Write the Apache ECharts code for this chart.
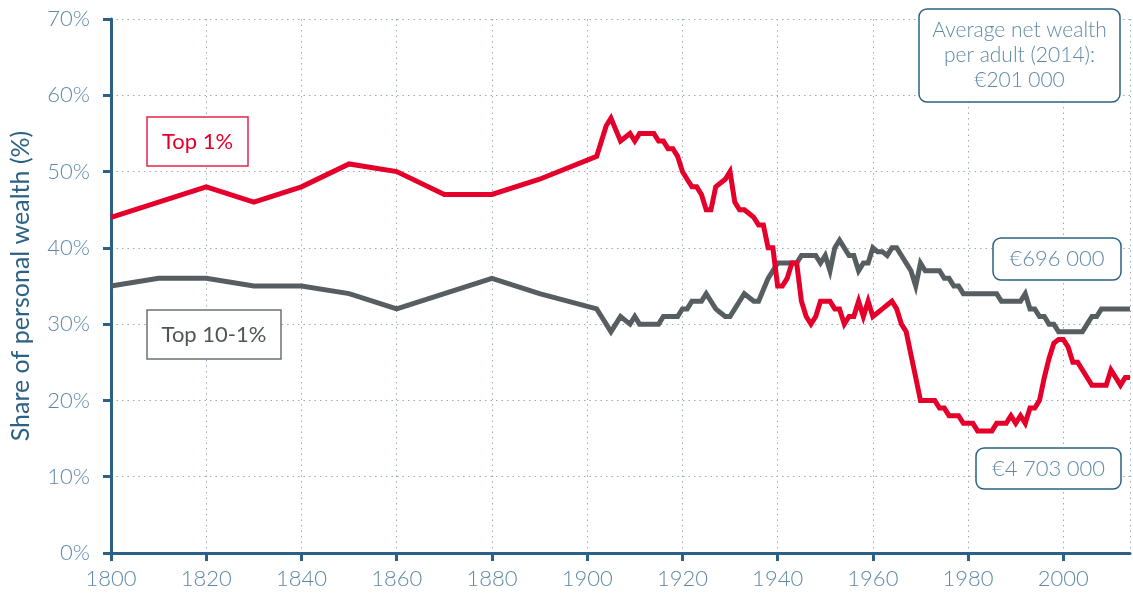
<!DOCTYPE html>
<html>
<head>
<meta charset="utf-8">
<title>Share of personal wealth</title>
<script src="https://cdn.jsdelivr.net/npm/echarts@6/dist/echarts.min.js"></script>
<style>
  html, body { margin: 0; padding: 0; background: #ffffff; }
  #chart { width: 1133px; height: 599px; }
</style>
</head>
<body>
<div id="chart"></div>
<script>
// Years with an observation: decennial until 1890, then annual from 1902.
const years = [
  1800, 1810, 1820, 1830, 1840, 1850, 1860, 1870, 1880, 1890,
  1902, 1903, 1904, 1905, 1906, 1907, 1908, 1909, 1910, 1911,
  1912, 1913, 1914, 1915, 1916, 1917, 1918, 1919, 1920, 1921,
  1922, 1923, 1924, 1925, 1926, 1927, 1928, 1929, 1930, 1931,
  1932, 1933, 1934, 1935, 1936, 1937, 1938, 1939, 1940, 1941,
  1942, 1943, 1944, 1945, 1946, 1947, 1948, 1949, 1950, 1951,
  1952, 1953, 1954, 1955, 1956, 1957, 1958, 1959, 1960, 1961,
  1962, 1963, 1964, 1965, 1966, 1967, 1968, 1969, 1970, 1971,
  1972, 1973, 1974, 1975, 1976, 1977, 1978, 1979, 1980, 1981,
  1982, 1983, 1984, 1985, 1986, 1987, 1988, 1989, 1990, 1991,
  1992, 1993, 1994, 1995, 1996, 1997, 1998, 1999, 2000, 2001,
  2002, 2003, 2004, 2005, 2006, 2007, 2008, 2009, 2010, 2011,
  2012, 2013, 2014
];

// Share of personal wealth held by the top 1% (%)
const top1 = [
  44, 46, 48, 46, 48, 51, 50, 47, 47, 49,
  52, 54, 56, 57, 55.5, 54, 54.5, 55, 54, 55,
  55, 55, 55, 54, 54, 53, 53, 52, 50, 49,
  48, 48, 47, 45, 45, 48, 48.5, 49, 50, 46,
  45, 45, 44.5, 44, 43, 43, 40, 40, 35, 35,
  36, 38, 38, 33, 31, 30, 31, 33, 33, 33,
  32, 32, 30, 31, 31, 33, 31, 33, 31, 31.5,
  32, 32.5, 33, 32, 30, 29, 26, 23, 20, 20,
  20, 20, 19, 19, 18, 18, 18, 17, 17, 17,
  16, 16, 16, 16, 17, 17, 17, 18, 17, 18,
  17, 19, 19, 20, 23, 25.5, 27.5, 28, 28, 27,
  25, 25, 24, 23, 22, 22, 22, 22, 24, 23,
  22, 23, 23
];

// Share of personal wealth held by the next 9% (top 10% minus top 1%) (%)
const top10to1 = [
  35, 36, 36, 35, 35, 34, 32, 34, 36, 34,
  32, 31, 30, 29, 30, 31, 30.5, 30, 31, 30,
  30, 30, 30, 30, 31, 31, 31, 31, 32, 32,
  33, 33, 33, 34, 33, 32, 31.5, 31, 31, 32,
  33, 34, 33.5, 33, 33, 34.5, 36, 37, 38, 38,
  38, 38, 38, 39, 39, 39, 39, 38, 39, 37,
  40, 41, 40, 39, 39, 37, 38, 38, 40, 39.5,
  39.5, 39, 40, 40, 39, 38, 37, 35, 38, 37,
  37, 37, 37, 36, 36, 35, 35, 34, 34, 34,
  34, 34, 34, 34, 34, 33, 33, 33, 33, 33,
  34, 32, 32, 31, 31, 30, 30, 29, 29, 29,
  29, 29, 29, 30, 31, 31, 32, 32, 32, 32,
  32, 32, 32
];

// Axis ranges and tick steps
const yearMin = 1800, yearMax = 2014, yearStep = 20;
const shareMin = 0, shareMax = 70, shareStep = 10;

const seriesNames = ['Top 10-1%', 'Top 1%'];
// Amounts use a narrow no-break space as thousands separator
const boxTexts = {
  top1: 'Top 1%',
  top10: 'Top 10-1%',
  average: 'Average net wealth\nper adult (2014):\n€201\u202f000',
  top10avg: '€696\u202f000',
  top1avg: '€4\u202f703\u202f000'
};

const AXIS_BLUE = '#2b6184';
const LABEL_BLUE = '#5f89a6';
const RED = '#e5002b';
const GREY = '#575e62';
const FONT = 'Lato, "Open Sans", sans-serif';

const pair = vals => years.map((y, i) => [y, vals[i]]);

const chart = echarts.init(document.getElementById('chart'), null, { renderer: 'canvas' });

// Framed annotation: white rectangle with centred text, drawn above the grid
function box(x, y, w, h, r, stroke, text, color, fontSize, weight, lineHeight) {
  return {
    type: 'group',
    children: [
      {
        type: 'rect',
        z: 100,
        shape: { x: x, y: y, width: w, height: h, r: r },
        style: { fill: '#ffffff', stroke: stroke, lineWidth: 1.5 }
      },
      {
        type: 'text',
        z: 101,
        style: {
          x: x + w / 2,
          y: y + h / 2,
          text: text,
          fill: color,
          fontFamily: FONT,
          fontSize: fontSize,
          fontWeight: weight,
          lineHeight: lineHeight || Math.round(fontSize * 1.2),
          align: 'center',
          verticalAlign: 'middle'
        }
      }
    ]
  };
}

chart.setOption({
  animation: false,
  backgroundColor: '#ffffff',
  grid: { left: 107, right: 3, top: 19, bottom: 46, containLabel: false },
  xAxis: {
    type: 'value',
    min: yearMin,
    max: yearMax,
    interval: yearStep,
    axisLine: { show: true, lineStyle: { color: AXIS_BLUE, width: 3 } },
    axisTick: { show: true, length: 8, lineStyle: { color: AXIS_BLUE, width: 3 } },
    axisLabel: {
      color: LABEL_BLUE, fontFamily: FONT, fontWeight: 300, fontSize: 22, margin: 15,
      showMaxLabel: false,
      formatter: v => (v % yearStep === 0 ? String(v) : '')
    },
    splitLine: { show: true, lineStyle: { color: '#9aabb8', type: [1.5, 4], width: 1 } }
  },
  yAxis: {
    type: 'value',
    min: shareMin,
    max: shareMax,
    interval: shareStep,
    name: 'Share of personal wealth (%)',
    nameLocation: 'middle',
    nameGap: 78,
    nameTextStyle: { color: AXIS_BLUE, fontFamily: FONT, fontSize: 25, fontWeight: 400 },
    axisLine: { show: true, lineStyle: { color: AXIS_BLUE, width: 3 } },
    axisTick: { show: true, length: 8, lineStyle: { color: AXIS_BLUE, width: 3 } },
    axisLabel: {
      color: LABEL_BLUE, fontFamily: FONT, fontWeight: 300, fontSize: 22, margin: 21,
      formatter: '{value}%'
    },
    splitLine: { show: true, lineStyle: { color: '#9aabb8', type: [1.5, 4], width: 1 } }
  },
  series: [
    {
      name: seriesNames[0],
      type: 'line',
      data: pair(top10to1),
      symbol: 'none',
      lineStyle: { color: GREY, width: 5, join: 'miter' },
      z: 3
    },
    {
      name: seriesNames[1],
      type: 'line',
      data: pair(top1),
      symbol: 'none',
      lineStyle: { color: RED, width: 5, join: 'miter' },
      z: 4
    }
  ],
  graphic: [
    box(147, 117, 101, 49, 0, '#e6264a', boxTexts.top1, RED, 22, 400),
    box(147, 310, 134, 49, 0, '#6b7175', boxTexts.top10, '#4f5559', 22, 400),
    box(919, 9, 201, 93, 8, AXIS_BLUE, boxTexts.average, LABEL_BLUE, 21, 300, 25),
    box(993, 238, 128, 42, 8, AXIS_BLUE, boxTexts.top10avg, LABEL_BLUE, 22, 300),
    box(976, 448, 145, 41, 8, AXIS_BLUE, boxTexts.top1avg, LABEL_BLUE, 22, 300)
  ]
});
</script>
</body>
</html>
